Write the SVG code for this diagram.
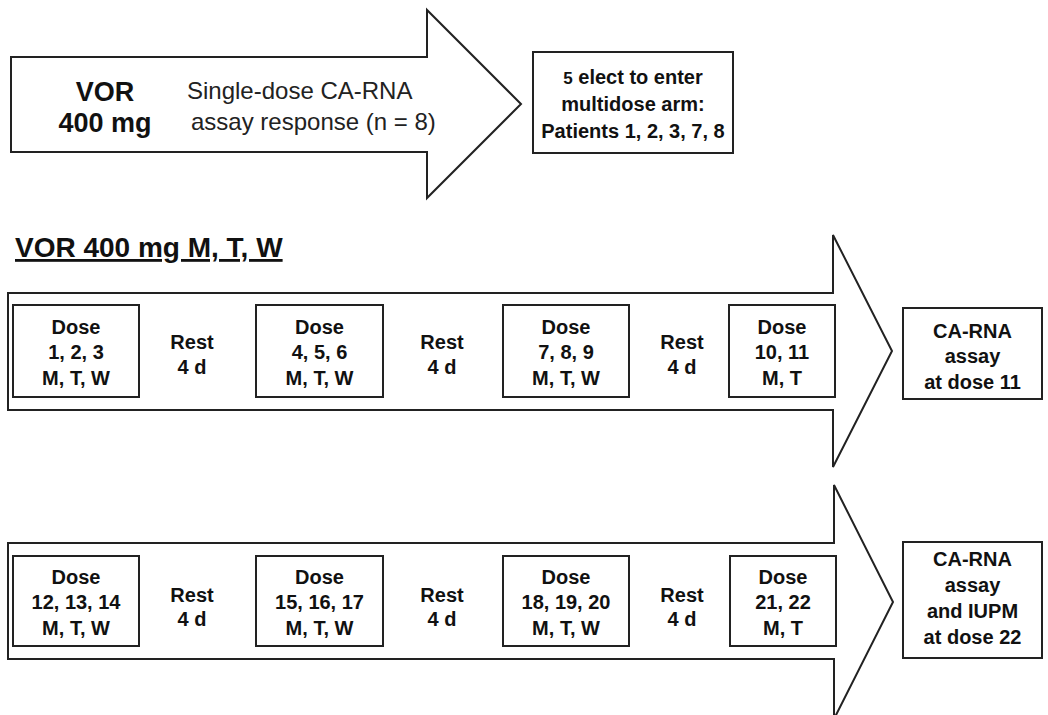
<svg xmlns="http://www.w3.org/2000/svg" width="1048" height="715" viewBox="0 0 1048 715">
<style>
.shape{fill:#fff;stroke:#222;stroke-width:2;stroke-linejoin:miter}
.b{font-family:"Liberation Sans",Arial,sans-serif;font-weight:bold;fill:#111;text-anchor:middle}
.t20{font-size:20px}
.r{font-family:"Liberation Sans",Arial,sans-serif;font-size:24px;fill:#222}
</style>
<rect width="1048" height="715" fill="#fff"/>
<g id="connectors">
<polygon class="shape" points="11,57 427,57 427,10 521,104 427,198 427,152 11,152"/>
<polygon class="shape" points="8,293 833,293 833,235 892,351 833,467 833,410 8,410"/>
<polygon class="shape" points="8,543 834,543 834,485 893,602 834,719 834,659 8,659"/>
</g>
<g id="vor-single">
<text class="b" x="105" y="101" font-size="27">VOR</text>
<text class="b" x="105" y="132" font-size="27">400 mg</text>
<text class="r" x="187" y="99">Single-dose CA-RNA</text>
<text class="r" x="191" y="130">assay response (n = 8)</text>
</g>
<g id="elect">
<rect class="shape" x="533" y="52" width="200" height="101"/>
<text class="b t20" x="633" y="84"><tspan font-size="17">5</tspan> elect to enter</text>
<text class="b t20" x="633" y="111">multidose arm:</text>
<text class="b t20" x="633" y="138">Patients 1, 2, 3, 7, 8</text>
</g>
<g id="header">
<text x="15" y="257" font-family="Liberation Sans,Arial,sans-serif" font-weight="bold" font-size="28" fill="#111" text-decoration="underline">VOR 400 mg M, T, W</text>
</g>
<g id="dose1">
<rect class="shape" x="13" y="305" width="126" height="92"/>
<text class="b t20" x="76" y="334">Dose</text>
<text class="b t20" x="76" y="359">1, 2, 3</text>
<text class="b t20" x="76" y="385">M, T, W</text>
</g>
<g id="rest1"><text class="b t20" x="192" y="349">Rest</text><text class="b t20" x="192" y="374">4 d</text></g>
<g id="dose2">
<rect class="shape" x="256" y="305" width="127" height="92"/>
<text class="b t20" x="319.5" y="334">Dose</text>
<text class="b t20" x="319.5" y="359">4, 5, 6</text>
<text class="b t20" x="319.5" y="385">M, T, W</text>
</g>
<g id="rest2"><text class="b t20" x="442" y="349">Rest</text><text class="b t20" x="442" y="374">4 d</text></g>
<g id="dose3">
<rect class="shape" x="503" y="305" width="126" height="92"/>
<text class="b t20" x="566" y="334">Dose</text>
<text class="b t20" x="566" y="359">7, 8, 9</text>
<text class="b t20" x="566" y="385">M, T, W</text>
</g>
<g id="rest3"><text class="b t20" x="682" y="349">Rest</text><text class="b t20" x="682" y="374">4 d</text></g>
<g id="dose4">
<rect class="shape" x="729" y="305" width="106" height="92"/>
<text class="b t20" x="782" y="334">Dose</text>
<text class="b t20" x="782" y="359">10, 11</text>
<text class="b t20" x="782" y="385">M, T</text>
</g>
<g id="assay11">
<rect class="shape" x="903" y="308" width="139" height="91"/>
<text class="b t20" x="972.5" y="338">CA-RNA</text>
<text class="b t20" x="972.5" y="363">assay</text>
<text class="b t20" x="972.5" y="389">at dose 11</text>
</g>
<g id="dose5">
<rect class="shape" x="13" y="556" width="126" height="90"/>
<text class="b t20" x="76" y="584">Dose</text>
<text class="b t20" x="76" y="609">12, 13, 14</text>
<text class="b t20" x="76" y="635">M, T, W</text>
</g>
<g id="rest4"><text class="b t20" x="192" y="602">Rest</text><text class="b t20" x="192" y="626">4 d</text></g>
<g id="dose6">
<rect class="shape" x="256" y="556" width="127" height="90"/>
<text class="b t20" x="319.5" y="584">Dose</text>
<text class="b t20" x="319.5" y="609">15, 16, 17</text>
<text class="b t20" x="319.5" y="635">M, T, W</text>
</g>
<g id="rest5"><text class="b t20" x="442" y="602">Rest</text><text class="b t20" x="442" y="626">4 d</text></g>
<g id="dose7">
<rect class="shape" x="503" y="556" width="126" height="90"/>
<text class="b t20" x="566" y="584">Dose</text>
<text class="b t20" x="566" y="609">18, 19, 20</text>
<text class="b t20" x="566" y="635">M, T, W</text>
</g>
<g id="rest6"><text class="b t20" x="682" y="602">Rest</text><text class="b t20" x="682" y="626">4 d</text></g>
<g id="dose8">
<rect class="shape" x="730" y="556" width="106" height="90"/>
<text class="b t20" x="783" y="584">Dose</text>
<text class="b t20" x="783" y="609">21, 22</text>
<text class="b t20" x="783" y="635">M, T</text>
</g>
<g id="assay22">
<rect class="shape" x="903" y="542" width="139" height="116"/>
<text class="b t20" x="972.5" y="566">CA-RNA</text>
<text class="b t20" x="972.5" y="592">assay</text>
<text class="b t20" x="972.5" y="618">and IUPM</text>
<text class="b t20" x="972.5" y="644">at dose 22</text>
</g>
</svg>
